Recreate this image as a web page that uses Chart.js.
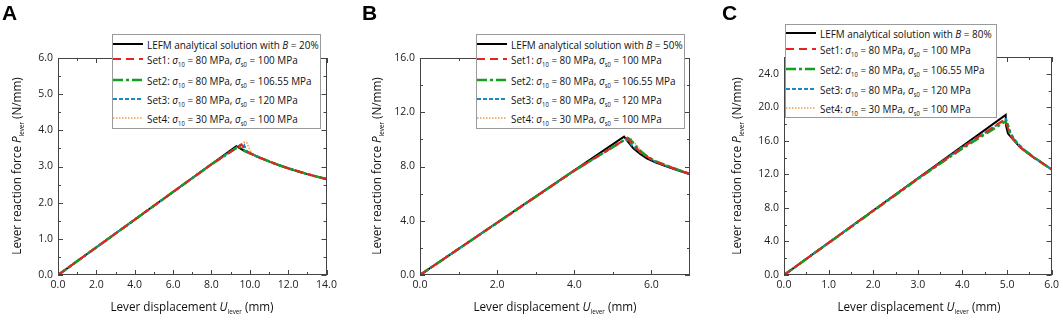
<!DOCTYPE html>
<html>
<head>
<meta charset="utf-8">
<script src="https://cdn.jsdelivr.net/npm/chart.js@4.4.1/dist/chart.umd.min.js"></script>
<style>
  body { margin: 0; background: #fff; font-family: 'Open Sans', sans-serif; }
  #wrap { position: relative; width: 1063px; height: 320px; overflow: hidden; }
  canvas { position: absolute; top: 0; }
  .letter { position: absolute; top: 1px; font: bold 21px 'Liberation Sans', Arial, sans-serif; color: #000; }
  .ytitle, .xtitle { position: absolute; white-space: nowrap; font-size: 13px; color: #111; }
  .ytitle { transform: translate(-50%, -50%) rotate(-90deg) scaleX(0.9); }
  .xtitle { transform: translate(-50%, -50%) scaleX(0.9); }
  sub { font-size: 7px; vertical-align: -3px; line-height: 0; }
  .legend { position: absolute; background: #fff; border: 1px solid #9a9a9a; box-sizing: border-box; }
  .row { position: absolute; left: 0; height: 16px; display: flex; align-items: center; white-space: nowrap; font-size: 11px; color: #111; }
  .row svg { margin-right: 4px; flex: none; }
  .row span { display: inline-block; transform: scaleX(0.9); transform-origin: left center; }
  .row sub { font-size: 6.5px; vertical-align: -3px; }
</style>
</head>
<body>
<div id="wrap">
  <canvas id="chartA" width="355" height="320" style="left:0px"></canvas>
  <canvas id="chartB" width="355" height="320" style="left:360px"></canvas>
  <canvas id="chartC" width="343" height="320" style="left:720px"></canvas>
</div>
<script>
// ---- data ----
const panelLetters = ['A', 'B', 'C'];
const bValues = ['20%', '50%', '80%'];
const setNames = ['Set1', 'Set2', 'Set3', 'Set4'];
const sigma10 = [80, 80, 80, 30];
const sigmaS0 = [100, 106.55, 120, 100];

// panel A
const aXTicks = [0, 2, 4, 6, 8, 10, 12, 14];
const aYTicks = [0, 1, 2, 3, 4, 5, 6];
const aLefmX = [0, 9.3, 9.6, 10, 10.5, 11, 11.5, 12, 12.5, 13, 13.5, 14];
const aLefmY = [0, 3.56, 3.47, 3.37, 3.25, 3.14, 3.04, 2.95, 2.87, 2.79, 2.72, 2.65];
const aSet1X = [0, 8, 9.55, 9.62, 9.72, 10, 10.5, 11, 11.5, 12, 12.5, 13, 13.5, 14];
const aSet1Y = [0, 3.06, 3.6, 3.58, 3.45, 3.37, 3.25, 3.14, 3.04, 2.95, 2.87, 2.79, 2.72, 2.66];
const aSet2X = [0, 8, 9.45, 9.6, 10, 10.5, 11, 11.5, 12, 12.5, 13, 13.5, 14];
const aSet2Y = [0, 3.06, 3.56, 3.46, 3.36, 3.25, 3.14, 3.04, 2.95, 2.87, 2.79, 2.72, 2.65];
const aSet3X = [0, 8, 9.6, 9.7, 9.8, 10.05, 10.5, 11, 11.5, 12, 12.5, 13, 13.5, 14];
const aSet3Y = [0, 3.06, 3.63, 3.61, 3.45, 3.36, 3.25, 3.14, 3.04, 2.95, 2.87, 2.79, 2.72, 2.66];
const aSet4X = [0, 8, 9.7, 9.85, 9.95, 10.1, 10.5, 11, 11.5, 12, 12.5, 13, 13.5, 14];
const aSet4Y = [0, 3.06, 3.67, 3.66, 3.52, 3.36, 3.26, 3.15, 3.05, 2.96, 2.88, 2.8, 2.72, 2.66];

// panel B
const bXTicks = [0, 2, 4, 6];
const bYTicks = [0, 4, 8, 12, 16];
const bLefmX = [0, 5.29, 5.4, 5.53, 5.7, 5.88, 6.1, 6.4, 6.7, 7];
const bLefmY = [0, 10.2, 9.8, 9.34, 8.95, 8.6, 8.3, 7.99, 7.7, 7.42];
const bSet1X = [0, 4, 5.35, 5.42, 5.55, 5.7, 5.9, 6.1, 6.4, 6.7, 7];
const bSet1Y = [0, 7.7, 10.05, 9.95, 9.5, 9.1, 8.7, 8.38, 8.05, 7.74, 7.45];
const bSet2X = [0, 4, 5.38, 5.45, 5.58, 5.72, 5.9, 6.1, 6.4, 6.7, 7];
const bSet2Y = [0, 7.7, 10.1, 10.0, 9.55, 9.12, 8.72, 8.4, 8.06, 7.75, 7.46];
const bSet3X = [0, 4, 5.33, 5.4, 5.52, 5.7, 5.9, 6.1, 6.4, 6.7, 7];
const bSet3Y = [0, 7.68, 10.0, 9.9, 9.5, 9.08, 8.68, 8.37, 8.04, 7.74, 7.45];
const bSet4X = [0, 4, 5.4, 5.48, 5.6, 5.74, 5.9, 6.1, 6.4, 6.7, 7];
const bSet4Y = [0, 7.68, 10.1, 10.02, 9.6, 9.15, 8.74, 8.41, 8.07, 7.76, 7.47];

// panel C
const cXTicks = [0, 1, 2, 3, 4, 5, 6];
const cYTicks = [0, 4, 8, 12, 16, 20, 24];
const cLefmX = [0, 4.97, 4.98, 5.02, 5.08, 5.15, 5.3, 5.45, 5.6, 5.7, 5.85, 6];
const cLefmY = [0, 19.1, 17.8, 16.9, 16.5, 16.1, 15.2, 14.6, 14.0, 13.7, 13.15, 12.6];
const cSet1X = [0, 3, 4, 4.93, 5.0, 5.05, 5.12, 5.2, 5.35, 5.5, 5.65, 5.8, 6];
const cSet1Y = [0, 11.5, 15.2, 18.5, 17.9, 17.0, 16.3, 15.8, 15.0, 14.4, 13.8, 13.3, 12.6];
const cSet2X = [0, 3, 4, 4.96, 5.01, 5.06, 5.13, 5.21, 5.35, 5.5, 5.65, 5.8, 6];
const cSet2Y = [0, 11.45, 15.1, 18.3, 17.9, 17.0, 16.3, 15.8, 15.05, 14.45, 13.85, 13.3, 12.6];
const cSet3X = [0, 3, 4, 4.98, 5.02, 5.07, 5.14, 5.22, 5.36, 5.5, 5.65, 5.8, 6];
const cSet3Y = [0, 11.5, 15.25, 18.6, 18.0, 17.1, 16.4, 15.85, 15.05, 14.45, 13.85, 13.3, 12.6];
const cSet4X = [0, 3, 4, 4.94, 5.0, 5.05, 5.12, 5.2, 5.35, 5.5, 5.65, 5.8, 6];
const cSet4Y = [0, 11.45, 15.15, 18.4, 17.9, 17.0, 16.3, 15.8, 15.0, 14.4, 13.8, 13.3, 12.6];

// ---- styles ----
const lineStyles = [
    { color: '#000000', width: 2, dash: [] },
    { color: '#e8221f', width: 2, dash: [8, 5] },
    { color: '#13a020', width: 2.5, dash: [10, 3, 3, 3] },
    { color: '#1a8bbf', width: 2, dash: [4, 2] },
    { color: '#f39a4e', width: 1.5, dash: [1.5, 1.5] },
];

function pts(xs, ys) {
    return xs.map((x, i) => ({ x: x, y: ys[i] }));
}

// frame and inward tick marks on all four sides
const frameTicks = {
    id: 'frameTicks',
    afterDraw(chart, args, opts) {
        const ctx = chart.ctx;
        const a = chart.chartArea;
        const xs = chart.scales.x;
        const ys = chart.scales.y;
        ctx.save();
        ctx.strokeStyle = '#444';
        ctx.lineWidth = 1;
        ctx.strokeRect(Math.round(a.left) + 0.5, Math.round(a.top) + 0.5,
            Math.round(a.width) - 1, Math.round(a.height) - 1);
        ctx.beginPath();
        const vertical = (vals, len) => vals.forEach(v => {
            const px = Math.round(xs.getPixelForValue(v)) + 0.5;
            ctx.moveTo(px, a.bottom); ctx.lineTo(px, a.bottom - len);
            ctx.moveTo(px, a.top); ctx.lineTo(px, a.top + len);
        });
        const horizontal = (vals, len) => vals.forEach(v => {
            const py = Math.round(ys.getPixelForValue(v)) + 0.5;
            ctx.moveTo(a.left, py); ctx.lineTo(a.left + len, py);
            ctx.moveTo(a.right, py); ctx.lineTo(a.right - len, py);
        });
        vertical(opts.xMajor, 5);
        vertical(opts.xMinor, 3);
        horizontal(opts.yMajor, 5);
        horizontal(opts.yMinor, 3);
        ctx.stroke();
        ctx.restore();
    }
};

function minorBetween(ticks, max) {
    const step = ticks[1] - ticks[0];
    const out = [];
    for (let v = ticks[0] + step / 2; v < max; v += step) out.push(v);
    return out;
}

function makePanel(id, p) {
    const series = [p.lefm].concat(p.sets);
    new Chart(document.getElementById(id), {
        type: 'scatter',
        data: {
            datasets: series.map((s, i) => ({
                data: pts(s[0], s[1]),
                showLine: true,
                borderColor: lineStyles[i].color,
                borderWidth: lineStyles[i].width,
                borderDash: lineStyles[i].dash,
                pointRadius: 0,
                tension: 0,
                fill: false,
                order: i === 0 ? 5 : i,
            }))
        },
        options: {
            responsive: false,
            animation: false,
            layout: { padding: p.padding },
            plugins: {
                legend: { display: false },
                tooltip: { enabled: false },
                frameTicks: {
                    xMajor: p.xTicks, xMinor: minorBetween(p.xTicks, p.xMax),
                    yMajor: p.yTicks, yMinor: minorBetween(p.yTicks, p.yMax),
                },
            },
            scales: {
                x: {
                    type: 'linear', min: 0, max: p.xMax,
                    grid: { display: false, drawTicks: false },
                    border: { display: false },
                    afterFit: s => { s.height = 22; },
                    afterBuildTicks: s => { s.ticks = p.xTicks.map(v => ({ value: v })); },
                    ticks: {
                        padding: 4, color: '#222',
                        font: { family: 'Open Sans', size: 10.5 },
                        callback: v => v.toFixed(1),
                    },
                },
                y: {
                    type: 'linear', min: 0, max: p.yMax,
                    grid: { display: false, drawTicks: false },
                    border: { display: false },
                    afterFit: s => { s.width = 30; },
                    afterBuildTicks: s => { s.ticks = p.yTicks.map(v => ({ value: v })); },
                    ticks: {
                        padding: 5, color: '#222',
                        font: { family: 'Open Sans', size: 10.5 },
                        callback: v => v.toFixed(1),
                    },
                },
            },
        },
        plugins: [frameTicks],
    });
}

makePanel('chartA', {
    xTicks: aXTicks, yTicks: aYTicks, xMax: 14, yMax: 6,
    lefm: [aLefmX, aLefmY],
    sets: [[aSet1X, aSet1Y], [aSet2X, aSet2Y], [aSet3X, aSet3Y], [aSet4X, aSet4Y]],
    padding: { left: 28, right: 28.5, top: 58, bottom: 23 },
});
makePanel('chartB', {
    xTicks: bXTicks, yTicks: bYTicks, xMax: 7, yMax: 16,
    lefm: [bLefmX, bLefmY],
    sets: [[bSet1X, bSet1Y], [bSet2X, bSet2Y], [bSet3X, bSet3Y], [bSet4X, bSet4Y]],
    padding: { left: 30, right: 25, top: 58, bottom: 23 },
});
makePanel('chartC', {
    xTicks: cXTicks, yTicks: cYTicks, xMax: 6, yMax: 26,
    lefm: [cLefmX, cLefmY],
    sets: [[cSet1X, cSet1Y], [cSet2X, cSet2Y], [cSet3X, cSet3Y], [cSet4X, cSet4Y]],
    padding: { left: 34, right: 8, top: 57, bottom: 23 },
});

// ---- html text: letters, axis titles, legends ----
const wrap = document.getElementById('wrap');
const panelBoxes = [
    { letterX: 2, yTitleX: 16, yTitleY: 166, xTitleX: 192, legend: [112, 34, 209, 95], rows: [44, 59, 80, 99, 118] },
    { letterX: 362, yTitleX: 376, yTitleY: 166, xTitleX: 555, legend: [476, 34, 209, 95], rows: [44, 59, 80, 99, 118] },
    { letterX: 722, yTitleX: 736, yTitleY: 166, xTitleX: 919, legend: [785, 24, 212, 94], rows: [33, 49, 69, 89, 108] },
];

function sample(st) {
    return '<svg width="30" height="6"><line x1="0" y1="3" x2="30" y2="3" stroke="' + st.color +
        '" stroke-width="' + st.width + '" stroke-dasharray="' + (st.dash.length ? st.dash.join(',') : 'none') + '"/></svg>';
}

panelBoxes.forEach((b, k) => {
    wrap.insertAdjacentHTML('beforeend',
        '<div class="letter" style="left:' + b.letterX + 'px">' + panelLetters[k] + '</div>' +
        '<div class="ytitle" style="left:' + b.yTitleX + 'px;top:' + b.yTitleY + 'px">Lever reaction force <i>P</i><sub>lever</sub> (N/mm)</div>' +
        '<div class="xtitle" style="left:' + b.xTitleX + 'px;top:306px">Lever displacement <i>U</i><sub>lever</sub> (mm)</div>');
    const lg = b.legend;
    let html = '<div class="legend" style="left:' + lg[0] + 'px;top:' + lg[1] + 'px;width:' + lg[2] + 'px;height:' + lg[3] + 'px">';
    const labels = ['LEFM analytical solution with <i>B</i> = ' + bValues[k]].concat(setNames.map((n, i) =>
        n + ': <i>σ</i><sub>10</sub> = ' + sigma10[i] + ' MPa, <i>σ</i><sub>s0</sub> = ' + sigmaS0[i] + ' MPa'));
    labels.forEach((t, i) => {
        html += '<div class="row" style="top:' + (b.rows[i] - lg[1] - 9) + 'px">' + sample(lineStyles[i]) + '<span>' + t + '</span></div>';
    });
    html += '</div>';
    wrap.insertAdjacentHTML('beforeend', html);
});
</script>
</body>
</html>
